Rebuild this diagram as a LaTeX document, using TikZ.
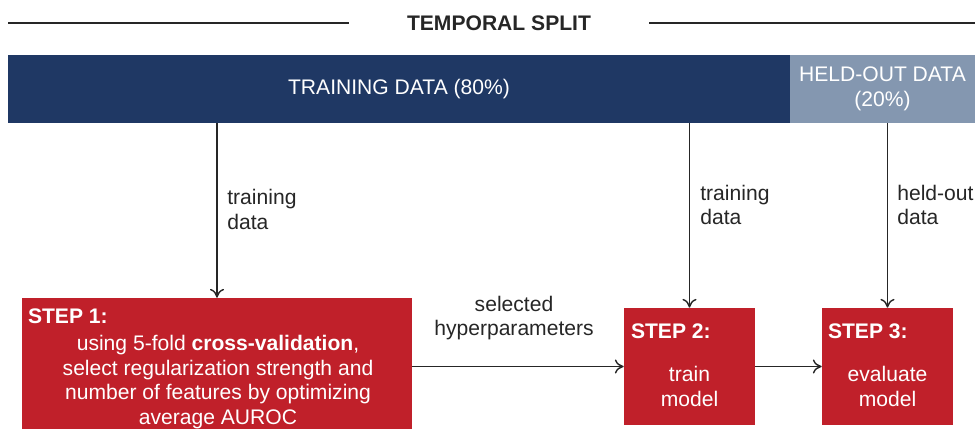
\documentclass[tikz,border=0pt]{standalone}
\usepackage{fontspec}
\setmainfont{Liberation Sans}
\usetikzlibrary{arrows.meta,positioning,calc}
\definecolor{navy}{HTML}{1F3864}
\definecolor{slate}{HTML}{8497B0}
\definecolor{stepred}{HTML}{C0202A}
\definecolor{ink}{HTML}{262626}
\newcommand{\diagfont}{\fontsize{12}{14}\selectfont}
\tikzstyle{databar}=[text=white,inner sep=0pt,minimum height=1.36cm,align=center]
\tikzstyle{stepbox}=[fill=stepred,inner sep=0pt]
\tikzstyle{steptitle}=[text=white,font=\diagfont\bfseries,inner sep=0pt,anchor=north west]
\tikzstyle{steptext}=[text=white,align=center,inner sep=0pt]
\tikzstyle{flowlabel}=[text=ink,align=left,inner sep=0pt,anchor=west]
\tikzstyle{flow}=[draw=ink,line width=0.8pt,-{To[length=5pt,width=8pt]}]

\begin{document}
\begin{tikzpicture}[x=0.02cm,y=-0.02cm,font=\diagfont]
    \useasboundingbox (0,0) rectangle (975,429);
    % heading
    \node [font=\diagfont\bfseries,text=ink,inner xsep=1.16cm] (title) at (499,23) {TEMPORAL SPLIT};
    \coordinate (ruleleft) at (8,23);
    \coordinate (ruleright) at (975,23);
    \draw [ink,line width=1.3pt] (ruleleft) -- (title.west);
    \draw [ink,line width=1.3pt] (title.east) -- (ruleright);
    % data bars
    \node [databar,fill=navy,minimum width=15.64cm] (train) at (399,89) {TRAINING DATA (80\%)};
    \node [databar,fill=slate,minimum width=3.7cm] (held) at (882.5,89) {HELD-OUT DATA\\(20\%)};
    % steps
    \node [stepbox,minimum width=7.8cm,minimum height=2.8cm] (step1) at (217,368) {};
    \node [stepbox,minimum width=2.62cm,minimum height=2.34cm] (step2) at (689.5,366.5) {};
    \node [stepbox,minimum width=2.62cm,minimum height=2.34cm] (step3) at (887.5,366.5) {};
    \node [steptitle] at ([xshift=0.12cm,yshift=-0.22cm]step1.north west) {STEP 1:};
    \node [steptitle] at ([xshift=0.14cm,yshift=-0.32cm]step2.north west) {STEP 2:};
    \node [steptitle] at ([xshift=0.12cm,yshift=-0.32cm]step3.north west) {STEP 3:};
    \node [steptext] (body1) at (218,382) {using 5-fold \textbf{cross-validation},\\select regularization strength and\\number of features by optimizing\\average AUROC};
    \node [steptext] (body2) at (689.5,386.5) {train\\model};
    \node [steptext] (body3) at (887.5,386.5) {evaluate\\model};
    % connectors
    \draw [flow] (train.south -| step1.north) -- (step1.north);
    \draw [flow] (train.south -| step2.north) -- (step2.north);
    \draw [flow] (held.south -| step3.north) -- (step3.north);
    \draw [flow] (step1.east |- step2.west) -- (step2.west);
    \draw [flow] (step2.east) -- (step3.west);
    \node [flowlabel] at (227,209.5) {training\\data};
    \node [flowlabel] at (700,205) {training\\data};
    \node [flowlabel] at (897,205) {held-out\\data};
    \node [text=ink,align=center,inner sep=0pt] (hyper) at (514,318) {selected\\hyperparameters};
\end{tikzpicture}
\end{document}
